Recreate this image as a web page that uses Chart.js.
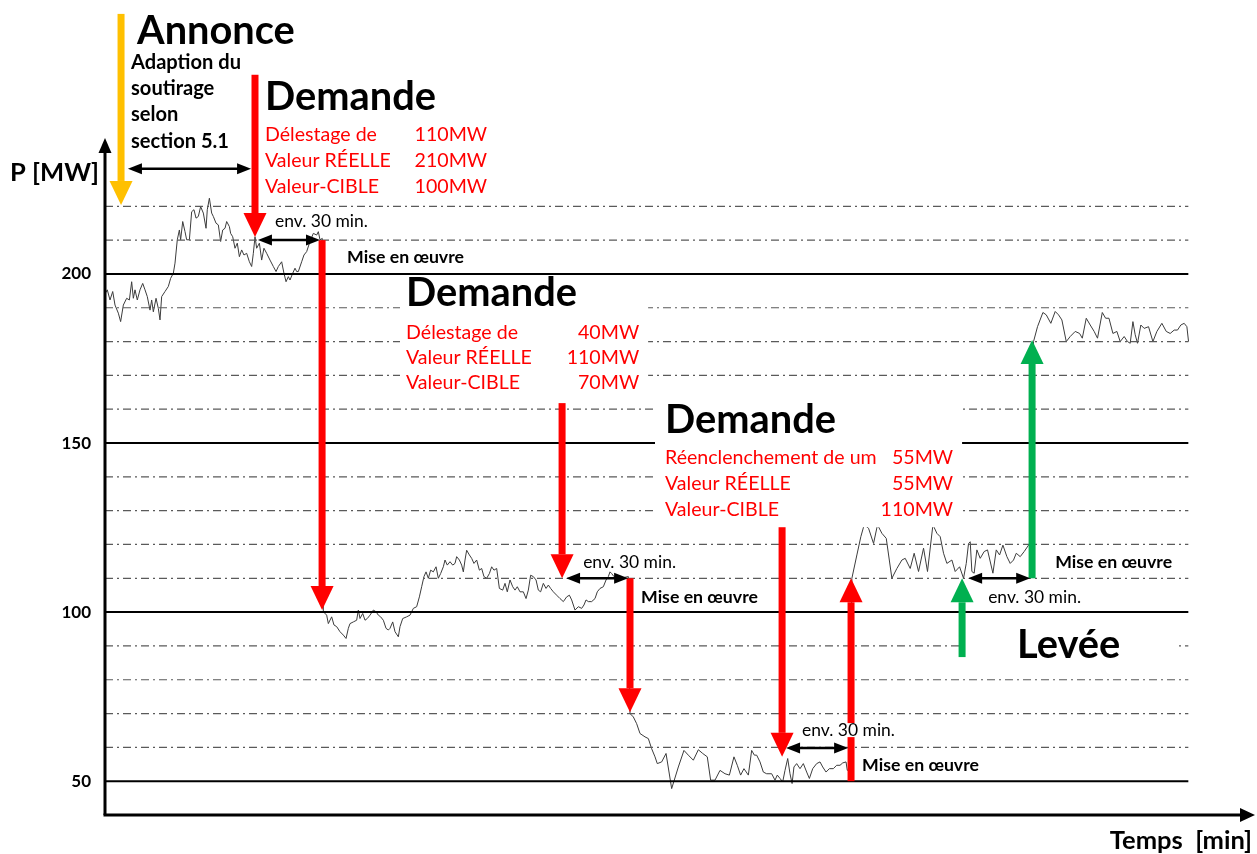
<!DOCTYPE html>
<html><head><meta charset="utf-8">
<script src="https://cdn.jsdelivr.net/npm/chart.js@4/dist/chart.umd.min.js"></script>
<style>html,body{margin:0;padding:0;background:#fff}#wrap{width:1257px;height:854px;position:relative}</style>
</head><body><div id="wrap"><canvas id="c"></canvas></div>
<script>
// ---- data (time in minutes, power in MW) ----
const timeMin = [
0.4,1.1,2.4,3.7,4.8,6.4,7.5,8.8,10.4,11.7,12.8,13.6,14.4,15.5,16.8,18.1,19.2,20.3,21.6,22.4,23.2,24.5,25.6,26.4,27.2,28.8,30.4,31.5,32.8,33.6,34.7,35.7,36.3,37.3,38.4,39.2,40.5,41.6,42.7,43.7,44.8,45.9,47.2,48.5,49.1,50.1,51.2,52.0,53.3,54.4,55.5,56.5,57.6,58.4,59.7,60.3,61.3,62.4,63.5,64.5,65.6,66.7,68.0,69.3,70.4,71.2,72.0,72.8,74.1,75.2,76.3,77.6,79.2,80.8,82.1,83.2,84.8,85.9,86.9,88.0,88.8,90.1,91.2,92.0,92.8,94.4,95.5,96.8,98.4,100.0,101.6,102.4,103.2,104.3,
104.8,106.4,107.2,108.8,109.9,111.2,112.8,114.4,115.7,116.8,117.6,119.2,120.8,121.6,122.4,123.7,124.8,125.9,127.2,128.8,130.1,131.2,132.3,133.6,134.9,136.0,136.8,138.1,139.2,140.8,141.6,142.9,144.8,146.4,148.0,149.6,150.9,152.0,153.1,154.1,155.2,156.3,157.6,158.9,160.0,161.1,162.4,163.2,164.3,165.6,166.9,168.0,168.8,170.1,171.2,172.0,172.8,173.6,174.9,176.0,177.1,178.4,179.7,180.8,181.9,183.2,184.5,185.6,186.7,188.0,189.3,190.9,192.0,193.1,194.4,195.7,196.8,197.9,199.2,200.8,202.1,203.2,204.3,205.6,206.9,208.0,209.1,210.4,211.7,212.8,213.9,215.2,216.8,218.4,220.0,221.6,222.9,224.0,225.6,227.2,228.8,229.9,230.9,232.0,233.6,235.2,236.3,237.6,239.2,240.5,241.6,242.4,243.2,244.3,247.2,251.2,
252.0,253.6,255.2,256.8,259.2,260.8,262.4,264.0,265.1,267.2,269.3,272.0,275.2,277.9,280.0,282.4,284.8,286.9,289.1,290.7,292.8,295.2,297.6,299.7,301.9,303.5,305.1,306.7,308.8,310.4,311.7,312.8,314.4,316.0,317.6,320.0,321.6,322.7,324.0,325.3,326.4,327.7,328.8,329.8,330.7,332.0,333.6,335.2,336.8,338.1,339.7,341.6,343.2,344.5,346.1,347.7,349.6,351.2,352.8,354.1,355.7,356.3,357.6,
358.5,360.9,362.8,364.4,366.5,368.9,370.8,372.9,375.0,377.7,380.1,382.5,384.1,386.5,388.4,390.5,392.9,394.8,397.4,399.3,400.9,402.5,404.1,406.5,408.1,410.2,412.1,413.4,414.5,415.3,416.1,417.2,418.5,420.1,422.0,423.6,426.2,427.8,429.4,431.0,432.9,434.5,436.1,437.4,439.3,441.2,443.3,444.6,
445.7,447.6,450.2,451.8,454.0,456.1,457.7,459.3,461.4,463.3,465.7,467.8,469.1,471.0,472.9,474.8,476.4,478.7,480.3,481.9,483.8,485.7,487.3,489.2,490.8,492.1,493.4,494.5,495.6,497.2,498.8,500.9,503.0,504.9,507.3,509.4,511.3,513.2,514.8,516.4,518.0,519.3,520.1
];
const powerMW = [
194.5,195.3,192.3,194.8,190.8,188.4,185.9,190.8,192.8,192.3,197.7,192.8,195.3,192.3,195.3,197.2,195.3,193.3,189.3,192.3,188.8,192.8,189.8,186.4,193.3,194.8,196.3,198.7,200.2,203.2,210.1,213.0,210.1,215.5,212.5,210.1,210.1,218.4,219.0,216.5,217.0,219.9,218.0,213.5,219.0,222.4,218.0,217.0,215.0,214.5,209.6,213.0,213.5,215.5,214.0,212.0,211.0,207.6,209.1,205.1,207.1,205.6,206.1,203.6,202.2,206.1,211.0,207.6,209.1,204.1,207.6,206.1,204.1,202.2,200.7,202.2,203.6,200.2,197.7,199.2,198.2,200.2,201.7,200.7,200.7,203.6,205.6,206.6,209.6,212.0,211.5,212.5,210.1,210.5,
100.1,99.1,96.6,98.6,96.2,95.7,94.2,93.2,92.2,95.2,96.6,97.1,97.6,100.6,98.1,99.6,97.6,98.1,99.1,100.6,100.1,99.1,98.6,97.6,95.2,94.7,95.2,97.1,94.2,92.7,95.7,98.1,98.6,99.1,101.1,101.6,104.5,107.5,110.5,111.9,110.0,112.4,111.9,113.4,110.0,111.4,113.4,115.4,113.9,114.9,113.9,114.4,116.4,115.4,113.9,111.9,115.4,118.3,116.9,115.9,114.4,115.4,112.4,112.9,110.5,110.0,111.4,113.4,112.4,112.9,107.0,106.5,108.5,106.0,109.5,107.5,106.5,107.5,106.0,106.0,104.0,106.5,110.9,110.5,109.5,106.5,106.0,108.5,107.0,108.0,107.0,106.0,105.0,104.0,103.1,104.5,105.0,103.6,100.6,101.6,101.1,102.1,103.6,103.1,103.1,104.0,106.0,107.0,107.5,109.5,110.5,111.9,111.4,110.5,110.0,110.5,
70.0,69.0,67.0,64.1,63.1,62.6,59.6,57.2,55.2,55.7,58.2,47.8,54.2,59.1,57.7,56.2,59.3,58.2,57.2,50.3,50.3,53.2,52.2,51.8,57.2,54.7,51.8,53.7,51.8,59.1,57.7,57.7,55.7,52.7,52.2,52.2,50.3,51.8,50.8,49.8,53.2,56.7,52.2,49.3,54.2,55.2,53.7,55.2,52.7,50.8,53.7,55.2,55.7,54.2,52.7,53.7,53.7,54.7,54.7,55.4,55.7,53.2,53.5,
110.0,116.9,122.3,125.8,124.8,120.3,125.8,123.3,121.8,110.0,112.9,115.4,115.9,112.9,117.4,112.0,118.9,112.0,125.8,123.3,122.3,117.4,114.4,115.4,112.0,113.4,110.0,114.4,120.3,120.8,112.0,111.5,118.4,115.9,117.9,118.4,111.5,118.4,116.9,119.8,116.4,114.4,115.4,117.4,116.4,117.9,119.8,120.0,
180.0,184.4,188.6,187.9,185.4,188.9,187.9,186.4,180.0,181.5,183.0,182.4,181.0,186.9,184.9,183.0,181.0,188.6,186.9,186.9,182.4,183.0,180.0,181.5,180.0,179.5,185.9,182.0,179.5,184.9,183.9,184.4,180.0,183.0,185.4,183.0,182.4,183.4,183.4,184.9,185.4,184.4,180.0
];
const yTickLabels = [50, 100, 150, 200];
const solidLevels = [50, 100, 150, 200];
const dashedLevels = [60, 70, 80, 90, 110, 120, 130, 140, 160, 170, 180, 190, 210, 220];
const gridEndMin = 520;

// ---- annotations (in data units: minutes, MW) ----
// [x, from, to, colour]
const vArrows = [
  [7.7, 276.9, 220.4, '#FFC000'],
  [72.0, 258.9, 210.9, '#FF0000'],
  [104.2, 210.0, 100.6, '#FF0000'],
  [219.4, 161.8, 110.0, '#FF0000'],
  [252.0, 110.0, 70.4, '#FF0000'],
  [325.0, 125.1, 57.2, '#FF0000'],
  [358.1, 50.0, 110.0, '#FF0000'],
  [411.4, 86.7, 110.0, '#00B050'],
  [445.0, 110.0, 180.5, '#00B050']
];
// [x0, x1, y]
const hArrows = [
  [11.0, 70.1, 231.1],
  [73.4, 103.2, 210.0],
  [221.3, 251.1, 110.0],
  [326.9, 356.7, 59.8],
  [414.3, 444.1, 110.0]
];
// white boxes behind text blocks [x0, x1, yTop, yBottom]
const textBoxes = [
  [141.6, 260.7, 198.2, 163.3],
  [264.0, 411.4, 164.2, 125.1],
  [412.9, 513.7, 95.3, 84.6]
];
// [text, style, x, y, align]
const annotTexts = [
  ['Annonce', 'head', 15.4, 271.9, 'left'],
  ['Adaption du', 'note', 12.5, 262.4, 'left'],
  ['soutirage', 'note', 12.5, 254.7, 'left'],
  ['selon', 'note', 12.5, 247.0, 'left'],
  ['section 5.1', 'note', 12.5, 239.3, 'left'],
  ['Demande', 'head', 76.8, 252.4, 'left'],
  ['Délestage de', 'red', 76.8, 241.1, 'left'],
  ['Valeur RÉELLE', 'red', 76.8, 233.4, 'left'],
  ['Valeur-CIBLE', 'red', 76.8, 225.7, 'left'],
  ['110MW', 'red', 183.4, 241.1, 'right'],
  ['210MW', 'red', 183.4, 233.4, 'right'],
  ['100MW', 'red', 183.4, 225.7, 'right'],
  ['env. 30 min.', 'env', 81.6, 215.4, 'left'],
  ['Mise en œuvre', 'mise', 116.2, 205.0, 'left'],
  ['Demande', 'head', 144.5, 194.4, 'left'],
  ['Délestage de', 'red', 144.5, 182.5, 'left'],
  ['Valeur RÉELLE', 'red', 144.5, 175.1, 'left'],
  ['Valeur-CIBLE', 'red', 144.5, 167.8, 'left'],
  ['40MW', 'red', 256.4, 182.5, 'right'],
  ['110MW', 'red', 256.4, 175.1, 'right'],
  ['70MW', 'red', 256.4, 167.8, 'right'],
  ['env. 30 min.', 'env', 229.5, 114.8, 'left'],
  ['Mise en œuvre', 'mise', 257.3, 104.4, 'left'],
  ['Demande', 'head', 268.8, 156.8, 'left'],
  ['Réenclenchement de um', 'red', 268.8, 145.6, 'left'],
  ['Valeur RÉELLE', 'red', 268.8, 137.9, 'left'],
  ['Valeur-CIBLE', 'red', 268.8, 130.2, 'left'],
  ['55MW', 'red', 407.1, 145.6, 'right'],
  ['55MW', 'red', 407.1, 137.9, 'right'],
  ['110MW', 'red', 407.1, 130.2, 'right'],
  ['Mise en œuvre', 'mise', 363.4, 54.7, 'left'],
  ['Mise en œuvre', 'mise', 456.1, 114.8, 'left'],
  ['env. 30 min.', 'env', 423.9, 104.4, 'left'],
  ['Levée', 'head', 437.8, 90.2, 'left'],
  ['P [MW]', 'axis', -45.6, 229.9, 'left'],
  ['Temps  [min]', 'axis', 550.6, 32.4, 'right']
];
// label drawn over the rising red arrow (with white background)
const overText = ['env. 30 min.', 'env', 334.6, 65.1, 'left'];

const FAM = 'Lato, "Open Sans", "DejaVu Sans", sans-serif';
const textStyles = {
  head: {weight: 'bold', ref: 'Demande', refW: 171, color: '#000'},
  note: {weight: 'bold', ref: 'Adaption du', refW: 110, color: '#000'},
  red:  {weight: 'normal', ref: 'Délestage de', refW: 112, color: '#FF0000'},
  env:  {weight: 'normal', ref: 'env. 30 min.', refW: 93, color: '#000'},
  mise: {weight: 'bold', ref: 'Mise en œuvre', refW: 117, color: '#000'},
  axis: {weight: 'bold', ref: 'P [MW]', refW: 89, color: '#000'}
};

const datasets = [];
solidLevels.forEach(v => datasets.push({
  data: [{x: 0, y: v}, {x: gridEndMin, y: v}], borderColor: '#000', borderWidth: 2, pointRadius: 0
}));
dashedLevels.forEach(v => datasets.push({
  data: [{x: 0, y: v}, {x: gridEndMin, y: v}], borderColor: '#5a5a5a', borderWidth: 1.2,
  borderDash: [8, 4, 2, 4], pointRadius: 0
}));
datasets.push({
  data: timeMin.map((t, i) => ({x: t, y: powerMW[i]})),
  borderColor: '#3c3c3c', borderWidth: 1, pointRadius: 0, tension: 0
});

const annotPlugin = {
  id: 'annot',
  afterDraw(chart) {
    const ctx = chart.ctx;
    const X = v => chart.scales.x.getPixelForValue(v);
    const Y = v => chart.scales.y.getPixelForValue(v);
    const ca = chart.chartArea;
    const sizes = {};
    for (const k in textStyles) {
      const s = textStyles[k];
      ctx.font = `${s.weight} 100px ${FAM}`;
      sizes[k] = 100 * s.refW / ctx.measureText(s.ref).width;
    }
    const setFont = k => { ctx.font = `${textStyles[k].weight} ${sizes[k].toFixed(2)}px ${FAM}`; ctx.fillStyle = textStyles[k].color; };
    ctx.save();
    // white boxes
    ctx.fillStyle = '#fff';
    textBoxes.forEach(b => ctx.fillRect(X(b[0]), Y(b[2]), X(b[1]) - X(b[0]), Y(b[3]) - Y(b[2])));
    // texts
    ctx.textBaseline = 'middle';
    annotTexts.forEach(t => {
      setFont(t[1]); ctx.textAlign = t[4];
      ctx.fillText(t[0], X(t[2]), Y(t[3]));
    });
    // vertical arrows
    vArrows.forEach(a => {
      const x = X(a[0]), y0 = Y(a[1]), y1 = Y(a[2]);
      const dir = Math.sign(y1 - y0), sw = 7, hw = 23, hl = 24;
      const yb = y1 - dir * hl;
      ctx.fillStyle = a[3];
      ctx.fillRect(x - sw / 2, Math.min(y0, yb), sw, Math.abs(yb - y0));
      ctx.beginPath(); ctx.moveTo(x - hw / 2, yb); ctx.lineTo(x + hw / 2, yb); ctx.lineTo(x, y1); ctx.closePath(); ctx.fill();
    });
    // label over arrow
    setFont(overText[1]); ctx.textAlign = 'left';
    const ow = ctx.measureText(overText[0]).width;
    const ox = X(overText[2]), oy = Y(overText[3]);
    ctx.fillStyle = '#fff'; ctx.fillRect(ox - 2, oy - 7, ow + 4, 14);
    setFont(overText[1]); ctx.fillText(overText[0], ox, oy);
    // horizontal double arrows
    ctx.strokeStyle = '#000'; ctx.fillStyle = '#000'; ctx.lineWidth = 2.5;
    hArrows.forEach(h => {
      const x0 = X(h[0]), x1 = X(h[1]), y = Y(h[2]), L = 14, H = 5.5;
      ctx.beginPath(); ctx.moveTo(x0 + L - 2, y); ctx.lineTo(x1 - L + 2, y); ctx.stroke();
      ctx.beginPath(); ctx.moveTo(x0, y); ctx.lineTo(x0 + L, y - H); ctx.lineTo(x0 + L, y + H); ctx.closePath(); ctx.fill();
      ctx.beginPath(); ctx.moveTo(x1, y); ctx.lineTo(x1 - L, y - H); ctx.lineTo(x1 - L, y + H); ctx.closePath(); ctx.fill();
    });
    // axes with arrow heads
    ctx.lineWidth = 3;
    ctx.beginPath(); ctx.moveTo(ca.left, ca.bottom); ctx.lineTo(ca.left, ca.top + 12); ctx.stroke();
    ctx.beginPath(); ctx.moveTo(ca.left, ca.top); ctx.lineTo(ca.left - 6.5, ca.top + 15); ctx.lineTo(ca.left + 6.5, ca.top + 15); ctx.closePath(); ctx.fill();
    ctx.beginPath(); ctx.moveTo(ca.left - 1.5, ca.bottom); ctx.lineTo(ca.right - 12, ca.bottom); ctx.stroke();
    ctx.beginPath(); ctx.moveTo(ca.right, ca.bottom); ctx.lineTo(ca.right - 15, ca.bottom - 7); ctx.lineTo(ca.right - 15, ca.bottom + 7); ctx.closePath(); ctx.fill();
    ctx.restore();
  }
};

new Chart(document.getElementById('c'), {
  type: 'line',
  data: {datasets},
  options: {
    responsive: true, maintainAspectRatio: false, animation: false,
    layout: {padding: {top: 138, right: 2, bottom: 39, left: 0}},
    plugins: {legend: {display: false}, tooltip: {enabled: false}},
    scales: {
      x: {type: 'linear', min: 0, max: 552, display: false},
      y: {
        type: 'linear', min: 40, max: 240.2,
        grid: {display: false, drawTicks: false}, border: {display: false},
        ticks: {padding: 14, color: '#000', font: {family: FAM, size: 17, weight: 'bold'}},
        afterBuildTicks: s => { s.ticks = yTickLabels.map(v => ({value: v})); },
        afterFit: s => { s.width = 105; }
      }
    }
  },
  plugins: [annotPlugin]
});
</script></body></html>
